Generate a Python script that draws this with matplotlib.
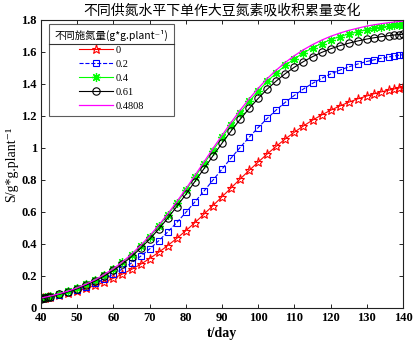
import matplotlib
matplotlib.use("Agg")
import matplotlib.pyplot as plt
from matplotlib.lines import Line2D

t_day = [40, 40.6, 41.2, 41.8, 42.5, 45, 47.5, 50, 52.5, 55, 57.5, 60, 62.5, 65, 67.5,
         70, 72.5, 75, 77.5, 80, 82.5, 85, 87.5, 90, 92.5, 95, 97.5, 100, 102.5, 105,
         107.5, 110, 112.5, 115, 117.5, 120, 122.5, 125, 127.5, 130, 132, 134, 136,
         137.5, 139, 140]

n_0 = [0.060, 0.062, 0.064, 0.067, 0.069, 0.080, 0.093, 0.107, 0.123, 0.141, 0.162,
       0.186, 0.212, 0.241, 0.273, 0.309, 0.348, 0.390, 0.435, 0.483, 0.533, 0.586,
       0.640, 0.695, 0.750, 0.806, 0.860, 0.912, 0.963, 1.011, 1.057, 1.099, 1.138,
       1.174, 1.206, 1.236, 1.262, 1.286, 1.307, 1.325, 1.339, 1.351, 1.361, 1.369,
       1.376, 1.380]

n_02 = [0.060, 0.062, 0.065, 0.068, 0.071, 0.083, 0.097, 0.114, 0.134, 0.156, 0.182,
        0.211, 0.244, 0.281, 0.323, 0.369, 0.420, 0.475, 0.534, 0.597, 0.663, 0.730,
        0.799, 0.868, 0.937, 1.003, 1.067, 1.128, 1.185, 1.238, 1.286, 1.329, 1.369,
        1.404, 1.435, 1.463, 1.486, 1.507, 1.525, 1.541, 1.551, 1.561, 1.569, 1.575,
        1.580, 1.583]

n_04 = [0.061, 0.064, 0.067, 0.070, 0.073, 0.088, 0.105, 0.124, 0.148, 0.175, 0.207,
        0.243, 0.285, 0.332, 0.386, 0.445, 0.510, 0.581, 0.656, 0.735, 0.818, 0.900,
        0.984, 1.066, 1.145, 1.220, 1.291, 1.356, 1.416, 1.469, 1.516, 1.558, 1.594,
        1.626, 1.653, 1.677, 1.696, 1.713, 1.727, 1.740, 1.748, 1.755, 1.762, 1.766,
        1.769, 1.771]

n_061 = [0.059, 0.062, 0.065, 0.068, 0.071, 0.085, 0.101, 0.120, 0.143, 0.169, 0.200,
         0.235, 0.275, 0.321, 0.373, 0.430, 0.493, 0.561, 0.634, 0.710, 0.790, 0.870,
         0.951, 1.030, 1.106, 1.179, 1.247, 1.310, 1.368, 1.419, 1.465, 1.505, 1.540,
         1.571, 1.597, 1.620, 1.639, 1.655, 1.669, 1.681, 1.689, 1.696, 1.702, 1.706,
         1.709, 1.711]

n_04808 = [0.062, 0.065, 0.068, 0.071, 0.074, 0.089, 0.106, 0.126, 0.150, 0.177, 0.210,
           0.246, 0.288, 0.336, 0.391, 0.451, 0.517, 0.588, 0.664, 0.744, 0.828, 0.912,
           0.997, 1.079, 1.159, 1.236, 1.307, 1.373, 1.434, 1.487, 1.535, 1.577, 1.614,
           1.646, 1.674, 1.698, 1.718, 1.735, 1.749, 1.762, 1.770, 1.777, 1.783, 1.787,
           1.791, 1.793]

series_labels = ["0", "0.2", "0.4", "0.61", "0.4808"]
x_ticks = [40, 50, 60, 70, 80, 90, 100, 110, 120, 130, 140]
y_ticks = [0, 0.2, 0.4, 0.6, 0.8, 1.0, 1.2, 1.4, 1.6, 1.8]
y_tick_labels = ["0", "0.2", "0.4", "0.6", "0.8", "1", "1.2", "1.4", "1.6", "1.8"]

title_text = "不同供氮水平下单作大豆氮素吸收积累量变化"
legend_title = "不同施氮量(g*g.plant⁻¹)"
xlabel_text = "t/day"
ylabel_text = "S/g*g.plant⁻¹"

serif = ["Liberation Serif", "DejaVu Serif", "Noto Sans CJK SC"]
cjk = ["Noto Sans CJK SC", "Liberation Serif", "DejaVu Serif"]
plt.rcParams["font.family"] = serif

W, H = 413, 345
fig = plt.figure(figsize=(W / 100, H / 100), dpi=100)
ax = fig.add_axes([41 / W, 1 - 308 / H, (403 - 41) / W, (308 - 20) / H])

lw = 0.8
ms = 5
ax.plot(t_day, n_0, color=(1, 0, 0), linestyle="-", marker="*", mfc="none",
        mec=(1, 0, 0), ms=ms + 1.5, lw=lw, mew=0.8, label=series_labels[0])
ax.plot(t_day, n_02, color=(0, 0, 1), linestyle="--", marker="s", mfc="none",
        mec=(0, 0, 1), ms=ms - 0.3, lw=lw, mew=0.8, label=series_labels[1])
ax.plot(t_day, n_04, color=(0, 1, 0), linestyle="-", marker=(8, 2, 0),
        mec=(0, 1, 0), ms=ms + 1.5, lw=lw, mew=0.9, label=series_labels[2])
ax.plot(t_day, n_061, color="black", linestyle="-", marker="o", mfc="none",
        mec="black", ms=ms + 0.3, lw=lw, mew=0.8, label=series_labels[3])
ax.plot(t_day, n_04808, color=(1, 0, 1), linestyle="-", lw=lw + 0.1,
        label=series_labels[4])

ax.set_xlim(40, 140)
ax.set_ylim(0, 1.8)
ax.set_xticks(x_ticks)
ax.set_xticklabels([str(v) for v in x_ticks])
ax.set_yticks(y_ticks)
ax.set_yticklabels(y_tick_labels)
ax.tick_params(direction="in", length=3, width=0.6, top=True, right=True,
               labelsize=9, pad=3)
for lab in ax.get_xticklabels() + ax.get_yticklabels():
    lab.set_fontweight("bold")
for sp in ax.spines.values():
    sp.set_linewidth(0.8)
    sp.set_color("#222222")

ax.set_xlabel(xlabel_text, fontsize=10, fontweight="bold", labelpad=2)
ax.set_ylabel(ylabel_text, fontsize=10, labelpad=2)
ax.set_title(title_text, fontsize=10, family=cjk, pad=4)

leg = ax.legend(loc="upper left", bbox_to_anchor=(49 / W, 1 - 24 / H),
                bbox_transform=fig.transFigure, borderaxespad=0,
                title=legend_title, prop={"size": 7.5}, title_fontsize=7.5,
                handlelength=3.2, handletextpad=0.3, labelspacing=0.45,
                borderpad=0.55, frameon=True, fancybox=False, alignment="center")
leg.get_frame().set_edgecolor("#333333")
leg.get_frame().set_linewidth(0.8)
leg.get_title().set_family(cjk)

fig.canvas.draw()
fb = leg.get_frame().get_window_extent()
tb = leg.get_title().get_window_extent()
ysep = tb.y0 - 3
inv = fig.transFigure.inverted()
p0 = inv.transform((fb.x0, ysep))
p1 = inv.transform((fb.x1, ysep))
fig.add_artist(Line2D([p0[0], p1[0]], [p0[1], p1[1]], transform=fig.transFigure,
                      color="#333333", lw=0.8))

fig.savefig("out.png", dpi=100)
